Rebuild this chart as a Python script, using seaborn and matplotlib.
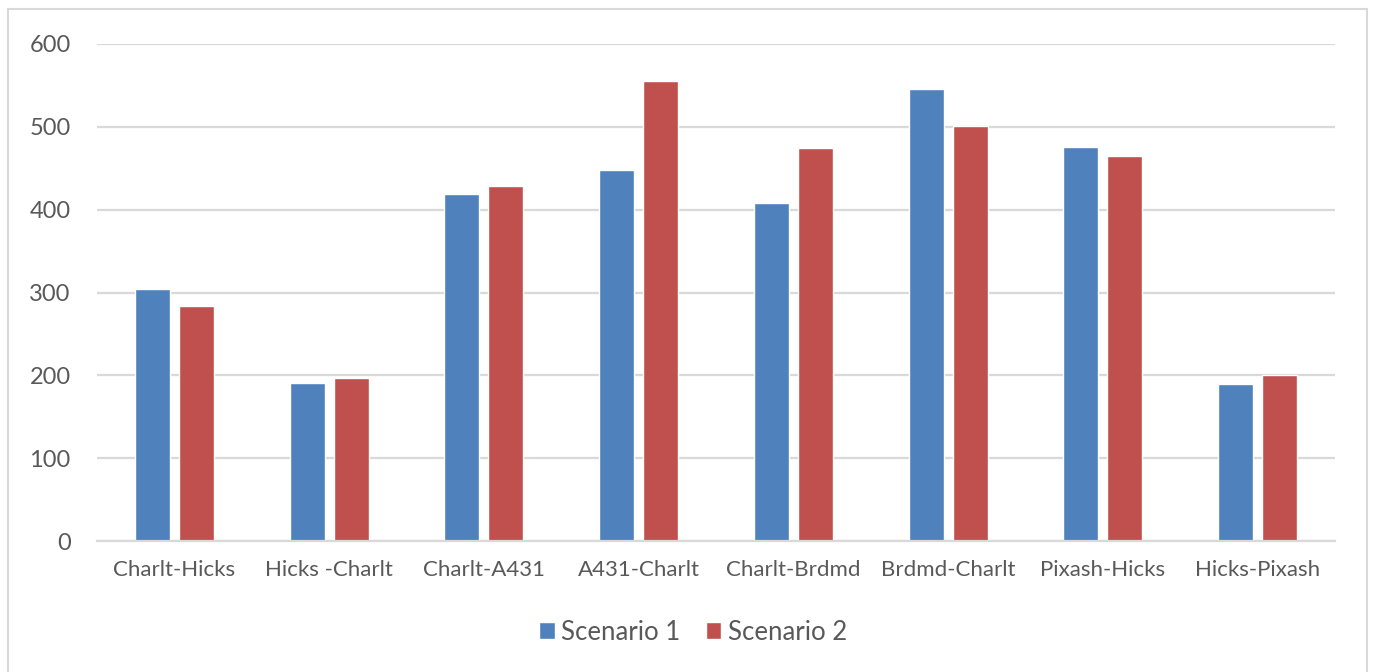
import matplotlib
matplotlib.use("Agg")
import matplotlib.pyplot as plt
from matplotlib.patches import Rectangle
import seaborn as sns
import pandas as pd

routes = ["Charlt-Hicks", "Hicks -Charlt", "Charlt-A431", "A431-Charlt",
          "Charlt-Brdmd", "Brdmd-Charlt", "Pixash-Hicks", "Hicks-Pixash"]
scenario_1 = [304, 191, 419, 448, 408, 546, 476, 190]
scenario_2 = [284, 197, 429, 555, 474, 501, 465, 201]
series_names = ["Scenario 1", "Scenario 2"]
y_ticks = [0, 100, 200, 300, 400, 500, 600]

df = pd.DataFrame({
    "route": routes * 2,
    "value": scenario_1 + scenario_2,
    "series": [series_names[0]] * len(routes) + [series_names[1]] * len(routes),
})

sns.set_theme(style="white")
plt.rcParams["font.family"] = ["Lato", "DejaVu Sans"]
text_color = "#595959"
grid_color = "#D9D9D9"

W, H = 1373, 672
fig = plt.figure(figsize=(W / 100, H / 100), dpi=100)
ax = fig.add_axes([97 / W, 1 - 541 / H, (1335 - 97) / W, (541 - 44) / H])

sns.barplot(data=df, x="route", y="value", hue="series", order=routes,
            hue_order=series_names, palette=["#4F81BD", "#C0504D"],
            saturation=1, width=0.568, gap=0.205, ax=ax, legend=True)

ax.set_ylim(0, 600)
ax.set_xlim(-0.5, len(routes) - 0.5)
ax.set_yticks(y_ticks)
ax.set_yticklabels([str(t) for t in y_ticks])
ax.yaxis.grid(True, color=grid_color, linewidth=1.6)
ax.set_axisbelow(True)
for side in ["top", "right", "left"]:
    ax.spines[side].set_visible(False)
ax.spines["bottom"].set_color(grid_color)
ax.spines["bottom"].set_linewidth(1.6)
ax.set_xlabel("")
ax.set_ylabel("")
ax.tick_params(axis="y", length=0, pad=19, labelsize=17, labelcolor=text_color)
ax.tick_params(axis="x", length=0, pad=14, labelsize=16, labelcolor=text_color)

ax.legend_.remove()
handles, labels = ax.get_legend_handles_labels()
fig.legend(handles, labels, loc="center", bbox_to_anchor=(693 / W, 1 - 632 / H),
           ncol=2, frameon=False, fontsize=18.5, labelcolor=text_color,
           handlelength=0.6, handleheight=0.6, handletextpad=0.25,
           columnspacing=1.0)

# Chart-area frame
fig.patches.append(Rectangle((8 / W, -0.02), (1367 - 8) / W, 1.02 - 9 / H,
                             transform=fig.transFigure, fill=False,
                             edgecolor=grid_color, linewidth=1.5))

fig.savefig("out.png", dpi=100)
